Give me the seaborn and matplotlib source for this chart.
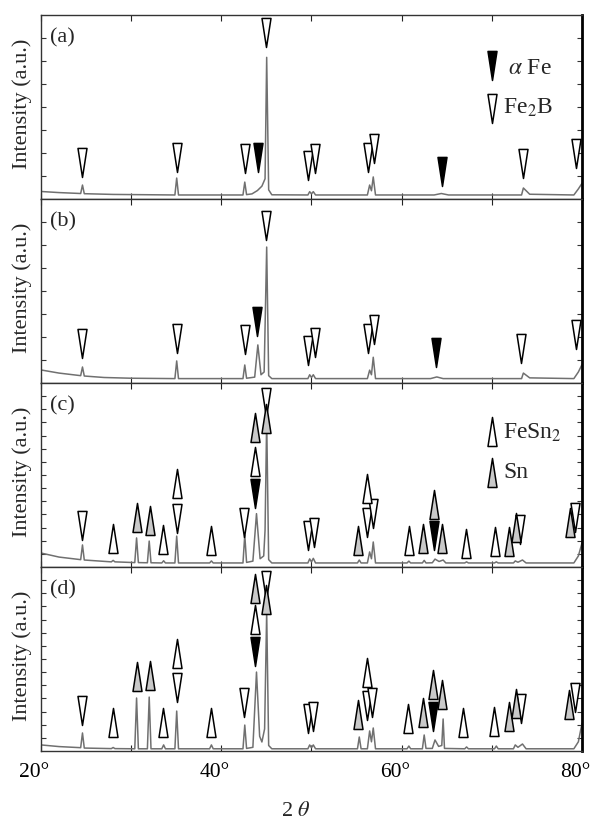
import numpy as np
import pandas as pd
import matplotlib
matplotlib.use("Agg")
import matplotlib.pyplot as plt
from matplotlib.markers import MarkerStyle
from matplotlib.path import Path
from matplotlib.transforms import ScaledTranslation
import seaborn as sns

# ---- XRD traces: 2theta (deg) vs intensity (a.u., 0-100 in each panel) ----
theta_a = [20.0, 22.0, 24.4, 24.6, 24.8, 28.0, 34.85, 35.05, 35.25, 42.4, 42.6, 42.8,
           43.4, 44.0, 44.5, 44.85, 45.03, 45.25, 45.6, 49.6, 49.8, 50.0, 50.2, 50.45,
           56.2, 56.45, 56.65, 56.85, 57.1, 63.6, 64.4, 65.2, 73.3, 73.5, 74.2, 79.1, 79.6, 80.0]
counts_a = [4.1, 3.5, 3.0, 7.6, 2.9, 2.5, 2.2, 11.4, 2.2, 2.2, 9.2, 2.4,
            2.8, 4.6, 7.0, 11.0, 77.0, 5.0, 2.3, 2.2, 4.0, 2.8, 4.0, 2.2,
            2.2, 7.6, 4.5, 12.0, 2.2, 2.2, 3.0, 2.2, 2.2, 6.0, 2.6, 2.2, 5.5, 8.5]

theta_b = [20.0, 22.0, 24.4, 24.6, 24.8, 27.0, 30.0, 34.85, 35.05, 35.25, 42.4, 42.6, 42.8,
           43.7, 44.05, 44.4, 44.75, 45.03, 45.25, 45.6, 49.6, 49.8, 50.0, 50.2, 50.45,
           56.2, 56.45, 56.65, 56.85, 57.1, 63.2, 63.9, 64.6, 73.3, 73.5, 74.2, 79.1, 79.6, 80.0]
counts_b = [7.1, 5.4, 4.0, 8.7, 3.8, 3.0, 2.6, 2.4, 12.0, 2.4, 2.4, 9.8, 2.6,
            3.2, 20.7, 4.5, 6.0, 73.9, 4.0, 2.4, 2.4, 4.5, 3.0, 4.5, 2.4,
            2.4, 7.0, 4.5, 14.0, 2.4, 2.4, 3.3, 2.4, 2.4, 5.4, 2.8, 2.4, 6.0, 10.0]

theta_c = [20.0, 22.0, 24.4, 24.6, 24.8, 27.8, 28.0, 28.2, 30.4, 30.6, 30.8, 31.8, 32.0, 32.2,
           33.4, 33.6, 33.8, 34.85, 35.05, 35.25, 38.7, 38.9, 39.1, 42.4, 42.6, 42.8,
           43.5, 43.9, 44.3, 44.7, 44.85, 45.03, 45.25, 45.6, 49.6, 49.8, 50.0, 50.2, 50.45,
           55.1, 55.3, 55.5, 56.2, 56.45, 56.65, 56.85, 57.1, 60.6, 60.8, 61.0, 62.3, 62.5, 62.7,
           63.4, 63.7, 64.15, 64.6, 64.9, 67.0, 67.2, 67.4, 70.3, 70.5, 70.7,
           72.4, 72.6, 72.9, 73.4, 73.8, 79.1, 79.6, 80.0]
counts_c = [7.6, 5.4, 4.0, 12.0, 3.8, 2.8, 3.6, 2.8, 2.4, 15.8, 2.4, 2.3, 14.1, 2.3,
            2.2, 3.4, 2.2, 2.2, 16.8, 2.2, 2.2, 3.3, 2.2, 2.2, 17.4, 2.5,
            3.2, 29.0, 4.5, 6.0, 20.0, 80.0, 4.0, 2.2, 2.2, 4.4, 2.8, 4.7, 2.2,
            2.2, 3.8, 2.2, 2.2, 8.2, 4.5, 13.6, 2.2, 2.2, 3.2, 2.2, 2.2, 3.6, 2.2,
            2.3, 4.3, 3.0, 3.8, 2.2, 2.2, 2.8, 2.2, 2.2, 2.8, 2.2,
            2.2, 3.3, 2.6, 3.8, 2.2, 2.2, 6.0, 13.0]

theta_d = [20.0, 22.0, 24.4, 24.6, 24.8, 27.8, 28.0, 28.2, 30.4, 30.6, 30.8, 31.8, 32.0, 32.2,
           33.4, 33.6, 33.8, 34.85, 35.05, 35.25, 38.7, 38.9, 39.1, 42.4, 42.6, 42.8,
           43.5, 43.9, 44.25, 44.5, 44.8, 45.03, 45.25, 45.6, 49.6, 49.8, 50.0, 50.2, 50.45,
           55.1, 55.3, 55.5, 56.2, 56.45, 56.65, 56.85, 57.1, 60.6, 60.8, 61.0, 62.3, 62.5, 62.7,
           63.4, 63.7, 64.1, 64.45, 64.6, 64.75, 67.0, 67.2, 67.4, 70.3, 70.5, 70.7,
           72.4, 72.6, 72.9, 73.4, 73.8, 79.1, 79.6, 80.0]
counts_d = [3.3, 2.4, 1.8, 9.8, 1.6, 1.3, 1.9, 1.3, 1.2, 28.8, 1.2, 1.2, 29.3, 1.2,
            1.2, 3.3, 1.2, 1.2, 21.7, 1.2, 1.2, 3.3, 1.2, 1.2, 14.1, 1.4,
            2.0, 42.9, 8.0, 4.9, 12.0, 75.5, 3.0, 1.2, 1.2, 3.3, 1.8, 3.3, 1.2,
            1.2, 7.6, 1.2, 1.2, 10.9, 5.0, 12.5, 1.2, 1.2, 2.7, 1.2, 1.2, 8.7, 1.4,
            1.4, 6.0, 2.5, 3.0, 17.4, 1.4, 1.2, 2.2, 1.2, 1.2, 2.7, 1.2,
            1.2, 3.3, 2.0, 3.8, 1.2, 1.2, 5.0, 15.0]

# ---- phase marks: (2theta, level) ----
# down marks point at the level, up marks stand on it
fe2b_a = [(24.6, 12.0), (35.05, 14.7), (42.6, 14.1), (45.0, 82.6), (49.6, 10.3), (50.4, 14.1),
          (56.3, 14.7), (56.9, 19.6), (73.45, 11.4), (79.3, 16.8)]
afe_a = [(44.1, 14.7), (64.5, 7.1)]

fe2b_b = [(24.6, 13.6), (35.05, 16.3), (42.6, 15.8), (45.0, 77.7), (49.6, 9.8), (50.4, 14.1),
          (56.3, 16.3), (56.9, 21.2), (73.2, 10.9), (79.3, 18.5)]
afe_b = [(44.0, 25.5), (63.8, 8.7)]

fe2b_c = [(24.6, 14.7), (35.05, 18.5), (42.5, 16.3), (45.0, 81.5), (49.6, 9.2), (50.3, 10.9),
          (56.2, 16.3), (56.8, 21.2), (73.1, 12.5), (79.2, 19.0)]
afe_c = [(43.7, 32.1), (63.6, 9.2)]
fesn2_c = [(28.0, 7.6), (33.5, 7.1), (35.05, 37.5), (38.9, 6.5), (43.7, 49.5), (56.2, 34.8),
           (60.8, 6.5), (67.1, 4.9), (70.35, 6.0)]
sn_c = [(30.6, 19.0), (32.1, 17.4), (43.7, 67.9), (45.0, 72.8), (55.2, 6.5), (62.4, 7.6),
        (63.6, 26.1), (64.5, 7.6), (71.9, 6.0), (72.7, 13.6), (78.7, 16.3)]

fe2b_d = [(24.6, 14.1), (35.05, 26.6), (42.5, 18.5), (45.0, 82.1), (49.6, 9.8), (50.2, 10.9),
          (56.2, 16.8), (56.7, 18.5), (73.2, 15.2), (79.2, 21.2)]
afe_d = [(43.7, 46.2), (63.5, 10.9)]
fesn2_d = [(28.0, 7.6), (33.5, 7.6), (35.05, 45.1), (38.9, 7.6), (43.7, 63.6), (56.2, 34.8),
           (60.7, 9.8), (66.8, 7.6), (70.2, 8.2)]
sn_d = [(30.6, 32.6), (32.1, 33.2), (43.7, 80.4), (45.0, 74.5), (55.2, 12.0), (62.4, 13.0),
        (63.5, 28.3), (64.5, 22.8), (71.9, 10.9), (72.7, 17.9), (78.6, 17.4)]

panel_labels = ["(a)", "(b)", "(c)", "(d)"]
x_ticks = [20, 30, 40, 50, 60, 70, 80]
x_tick_labels = ["20°", "", "40°", "", "60°", "", "80°"]

TRACE_COLOR = "#707070"
SN_GREY = "#c9c9c9"

# tall narrow triangles, anchored at the tip (down) or at the base (up)
W = 0.155
DOWN = MarkerStyle(Path([(-W, 1), (W, 1), (0, 0), (-W, 1)],
                        [Path.MOVETO, Path.LINETO, Path.LINETO, Path.CLOSEPOLY]))
UP = MarkerStyle(Path([(-W, 0), (W, 0), (0, 1), (-W, 0)],
                      [Path.MOVETO, Path.LINETO, Path.LINETO, Path.CLOSEPOLY]))
MARK_S = 1750


def set_style():
    sns.set_theme(style="ticks")
    plt.rcParams["font.family"] = ["Liberation Serif", "DejaVu Serif"]
    plt.rcParams["mathtext.fontset"] = "stix"


def draw_marks(ax, marks, shape, face):
    if not marks:
        return
    df = pd.DataFrame(marks, columns=["theta", "level"])
    sns.scatterplot(data=df, x="theta", y="level", ax=ax, marker=shape, s=MARK_S,
                    color=face, edgecolor="black", linewidth=1.1, zorder=3,
                    legend=False, clip_on=False)


def key_mark(ax, x, y, shape, face, text, tx, ty):
    ax.scatter([x], [y], marker=shape, s=MARK_S, color=face, edgecolor="black",
               linewidth=1.1, transform=ax.transAxes, zorder=4, clip_on=False)
    ax.text(tx, ty, text, transform=ax.transAxes, fontsize=17, va="center", ha="left")


def style_axes(ax, n_ytick):
    ax.set_xlim(20, 80)
    ax.set_ylim(0, 100)
    ax.set_xticks(x_ticks)
    ax.set_yticks(np.linspace(0, 100, n_ytick + 1)[1:-1])
    ax.tick_params(axis="x", direction="in", top=True, bottom=True, length=4,
                   width=0.8, labelsize=15.5, pad=9, colors="#222222", labelcolor="black")
    ax.tick_params(axis="y", direction="in", left=True, right=True, length=3.5,
                   width=0.8, labelleft=False, colors="#333333")
    for side in ["left", "top", "bottom"]:
        ax.spines[side].set_color("#333333")
        ax.spines[side].set_linewidth(1.0)
    ax.spines["right"].set_color("black")
    ax.spines["right"].set_linewidth(2.0)
    ax.set_xlabel("")
    ax.set_ylabel("Intensity (a.u.)", fontsize=16)
    ax.yaxis.set_label_coords(-0.016, 0.52)


set_style()
fig, axes = plt.subplots(4, 1, figsize=(5.9, 8.26), dpi=100, sharex=True)
fig.subplots_adjust(left=0.0695, right=0.9864, top=0.9818, bottom=0.0908, hspace=0)

traces = [(theta_a, counts_a), (theta_b, counts_b), (theta_c, counts_c), (theta_d, counts_d)]
fe2b_sets = [fe2b_a, fe2b_b, fe2b_c, fe2b_d]
afe_sets = [afe_a, afe_b, afe_c, afe_d]
fesn2_sets = [[], [], fesn2_c, fesn2_d]
sn_sets = [[], [], sn_c, sn_d]
ytick_counts = [8, 8, 14, 14]

for i, ax in enumerate(axes):
    theta, counts = traces[i]
    sns.lineplot(x=theta, y=counts, ax=ax, color=TRACE_COLOR, linewidth=1.1,
                 sort=False, estimator=None, zorder=2)
    draw_marks(ax, afe_sets[i], DOWN, "black")
    draw_marks(ax, fe2b_sets[i], DOWN, "white")
    draw_marks(ax, fesn2_sets[i], UP, "white")
    draw_marks(ax, sn_sets[i], UP, SN_GREY)
    style_axes(ax, ytick_counts[i])
    ax.text(0.017, 0.875, panel_labels[i], transform=ax.transAxes, fontsize=16,
            va="center", ha="left")

axes[-1].set_xticklabels(x_tick_labels)
# the degree sign makes the labels look off-centre; nudge them left as in the source
shift = ScaledTranslation(-7 / 100, 0, fig.dpi_scale_trans)
for lab in axes[-1].get_xticklabels():
    lab.set_transform(lab.get_transform() + shift)

key_mark(axes[0], 0.834, 0.647, DOWN, "black", r"$\alpha$ Fe", 0.863, 0.712)
key_mark(axes[0], 0.834, 0.413, DOWN, "white", r"Fe$_2$B", 0.854, 0.495)
key_mark(axes[2], 0.834, 0.658, UP, "white", r"FeSn$_2$", 0.854, 0.728)
key_mark(axes[2], 0.834, 0.435, UP, SN_GREY, "Sn", 0.854, 0.511)

fig.text(296 / 590, 1 - 812 / 826, r"2 $\theta$", ha="center", va="center", fontsize=16)

fig.savefig("out.png", dpi=100, facecolor="white")
